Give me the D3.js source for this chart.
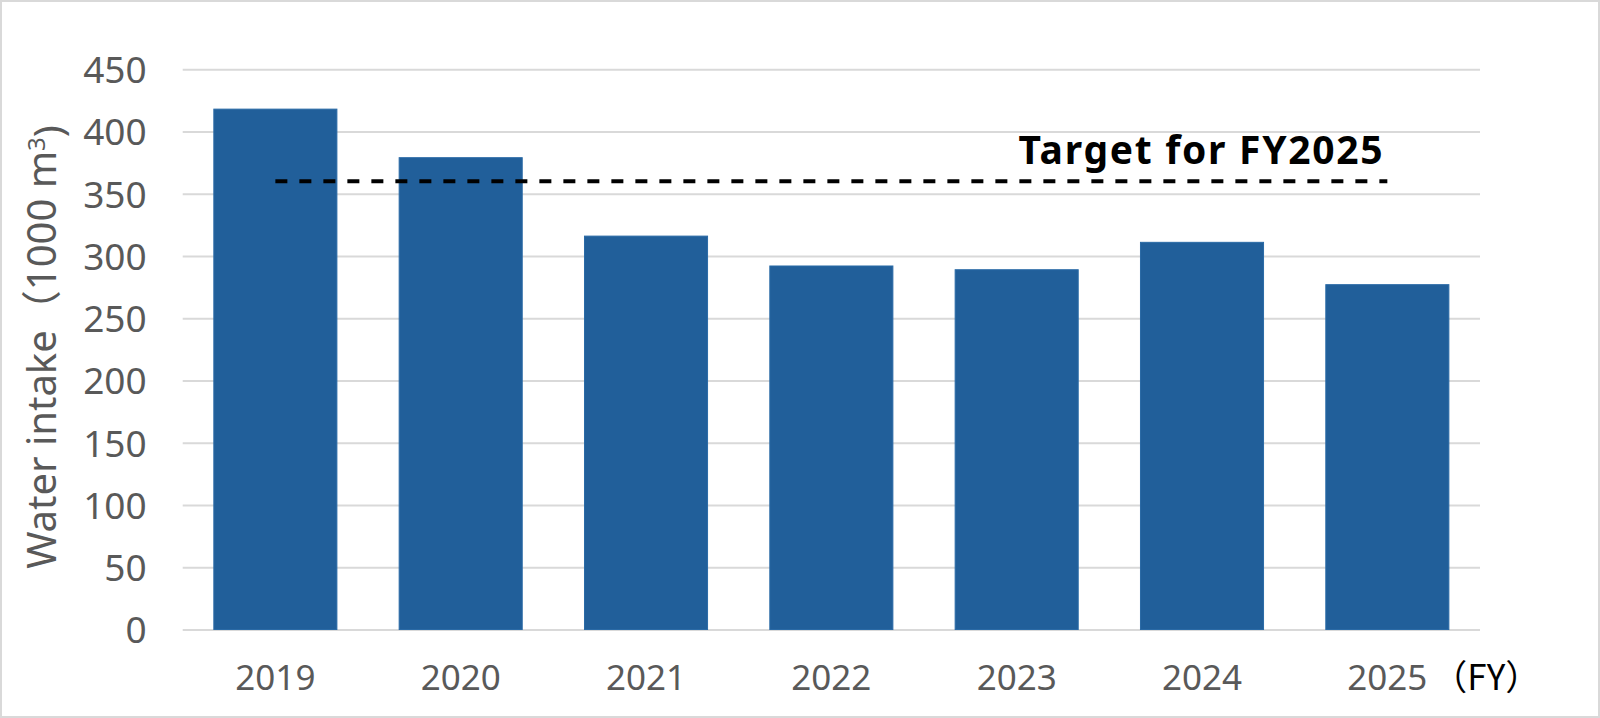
<!DOCTYPE html>
<html>
<head>
<meta charset="utf-8">
<script src="https://cdn.jsdelivr.net/npm/d3@7"></script>
<style>
  body { margin: 0; background: #fff; }
  svg { display: block; }
  .tick-label { font-family: "Noto Sans", "Noto Sans CJK JP", sans-serif; fill: #595959; }
</style>
</head>
<body>
<div class="chart"></div>
<script>
// Chart data
var years = ["2019", "2020", "2021", "2022", "2023", "2024", "2025"];
var intake = [418, 379, 316, 292, 289, 311, 277];
var yTicks = [0, 50, 100, 150, 200, 250, 300, 350, 400, 450];
var targetValue = 360;
var targetLabel = "Target for FY2025";
var yTitle = "Water intake（1000 m";
var xUnit = "（FY）";

var svgWidth = 1600;
var svgHeight = 718;
var margin = { top: 69.3, right: 120, bottom: 88.5, left: 182.7 };
var width = 1480 - margin.left;
var height = 629.5 - margin.top;

var svg = d3.select(".chart")
    .append("svg")
    .attr("width", svgWidth)
    .attr("height", svgHeight);

// outer frame
svg.append("rect")
    .attr("x", 1)
    .attr("y", 1)
    .attr("width", svgWidth - 2)
    .attr("height", svgHeight - 2)
    .attr("fill", "#fff")
    .attr("stroke", "#d9d9d9")
    .attr("stroke-width", 2);

var chart = svg.append("g")
    .attr("transform", "translate(" + margin.left + "," + margin.top + ")");

// scales
var xScale = d3.scaleBand()
    .domain(years)
    .range([0, width])
    .paddingInner(0.336)
    .paddingOuter(0.168);

var yScale = d3.scaleLinear()
    .domain([0, 450])
    .range([height, 0]);

// gridlines
var grid = chart.append("g")
    .call(d3.axisLeft(yScale).tickValues(yTicks).tickSize(-width).tickFormat(""));
grid.select(".domain").remove();
grid.selectAll("line")
    .attr("stroke", "#d9d9d9")
    .attr("stroke-width", 2);

// y tick labels
var leftAxis = chart.append("g")
    .call(d3.axisLeft(yScale).tickValues(yTicks).tickSize(0).tickPadding(36));
leftAxis.select(".domain").remove();
leftAxis.selectAll("text")
    .attr("class", "tick-label")
    .attr("dy", "0.36em")
    .style("font-size", "37px");

// bars
chart.selectAll(".bar")
    .data(intake)
    .enter()
    .append("rect")
    .attr("class", "bar")
    .attr("x", function (d, i) { return xScale(years[i]); })
    .attr("y", function (d) { return yScale(d); })
    .attr("width", xScale.bandwidth())
    .attr("height", function (d) { return height - yScale(d); })
    .attr("fill", "#215f9a")
    .attr("stroke", "#2a6aa6")
    .attr("stroke-width", 1);

// x labels
var bottomAxis = chart.append("g")
    .attr("transform", "translate(0," + height + ")")
    .call(d3.axisBottom(xScale).tickSize(0).tickPadding(0));
bottomAxis.select(".domain").remove();
bottomAxis.selectAll("text")
    .attr("class", "tick-label")
    .attr("y", 60.5)
    .attr("dy", 0)
    .style("font-size", "35px");

// unit label
chart.append("text")
    .attr("x", xScale("2025") + xScale.bandwidth() / 2 + 45)
    .attr("y", height + 60.5)
    .style("font-family", "\"Noto Sans CJK JP\", sans-serif")
    .style("font-size", "35px")
    .style("fill", "#000")
    .text(xUnit);

// target line
var x0 = xScale(years[0]) + xScale.bandwidth() / 2;
var x1 = xScale(years[years.length - 1]) + xScale.bandwidth() / 2;
chart.append("line")
    .attr("x1", x0)
    .attr("x2", x1)
    .attr("y1", yScale(targetValue))
    .attr("y2", yScale(targetValue))
    .attr("stroke", "#000")
    .attr("stroke-width", 4)
    .attr("stroke-dasharray", "12,12");

chart.append("text")
    .attr("x", x1 - 3)
    .attr("y", yScale(targetValue) - 17)
    .attr("text-anchor", "end")
    .style("font-family", "\"Noto Sans\", sans-serif")
    .style("font-weight", "bold")
    .style("font-size", "39px")
    .style("letter-spacing", "1.7px")
    .style("fill", "#000")
    .text(targetLabel);

// y title
var title = svg.append("text")
    .attr("transform", "translate(56,347) rotate(-90)")
    .attr("text-anchor", "middle")
    .style("font-family", "\"Noto Sans\", \"Noto Sans CJK JP\", sans-serif")
    .style("font-size", "40px")
    .style("fill", "#595959");
title.append("tspan").text(yTitle);
title.append("tspan").attr("dy", "-0.45em").style("font-size", "24px").text("3");
title.append("tspan").attr("dy", "0.45em").text(")");
</script>
</body>
</html>
